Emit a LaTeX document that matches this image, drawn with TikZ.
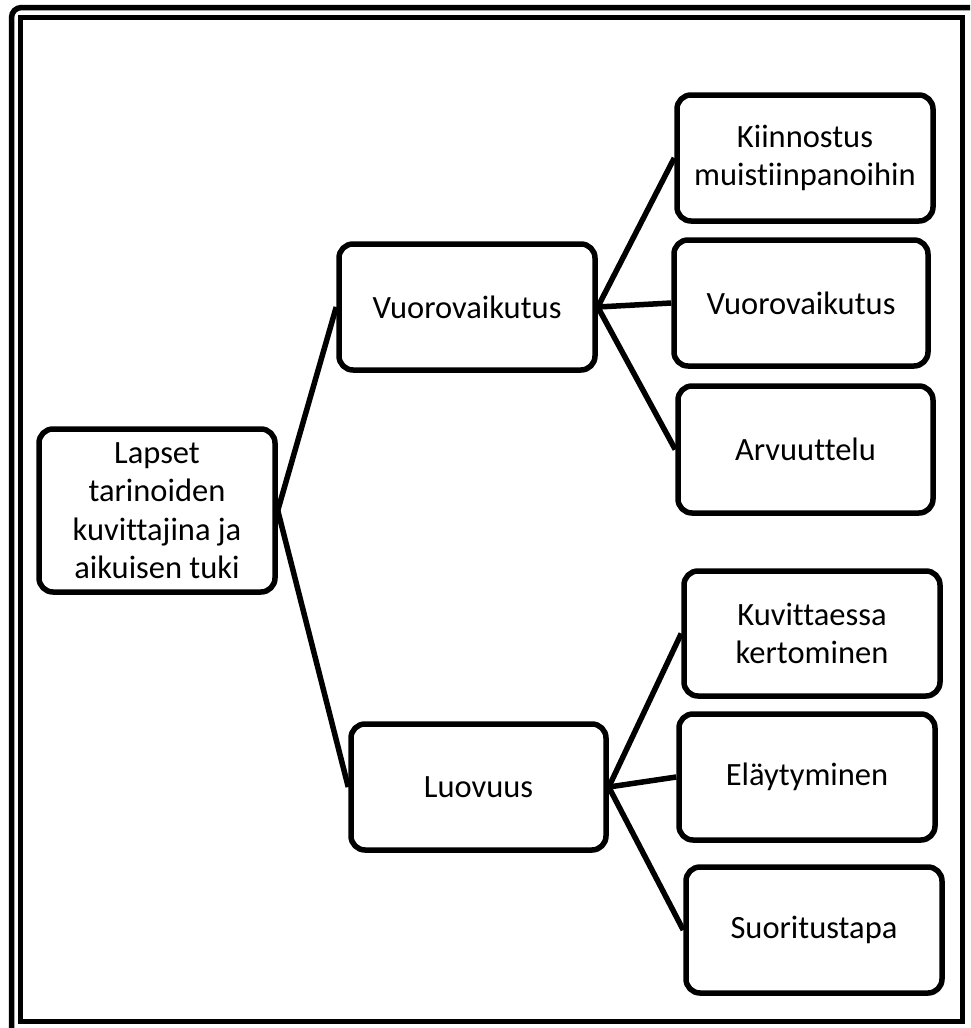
\documentclass[tikz,border=0pt]{standalone}
\usepackage{fontspec}
\setmainfont{Carlito}[Ligatures=NoCommon]
\begin{document}
\begin{tikzpicture}[x=1pt,y=-1pt,
  box/.style={draw=black,line width=5.5pt,rounded corners=14pt,rectangle,align=center,
    inner sep=0pt,font=\fontsize{32.5}{38.5}\selectfont,fill=white},
  link/.style={draw=black,line width=5.5pt},
  frame/.style={draw=black,line width=5.5pt}]
\useasboundingbox (0,0) rectangle (970,1028);
\begin{scope}
\clip (0,0) rectangle (970,1028);
\draw[frame,rounded corners=10pt] (11.5,7.5) rectangle (990,1045);
\draw[frame] (20.5,17.5) rectangle (962.5,1021.5);
\end{scope}
\node[box,minimum width=236pt,minimum height=163pt] (root) at (157,510.5) {Lapset\\tarinoiden\\kuvittajina ja\\aikuisen tuki};
\node[box,minimum width=256pt,minimum height=126pt] (mt) at (467,307) {Vuorovaikutus};
\node[box,minimum width=255pt,minimum height=126pt] (mb) at (478.5,787) {Luovuus};
\node[box,minimum width=256pt,minimum height=126pt] (r1) at (805,158) {Kiinnostus\\muistiinpanoihin};
\node[box,minimum width=254pt,minimum height=126pt] (r2) at (801,303) {Vuorovaikutus};
\node[box,minimum width=255pt,minimum height=127pt] (r3) at (805.5,449.5) {Arvuuttelu};
\node[box,minimum width=256pt,minimum height=125pt] (r4) at (812,633.5) {Kuvittaessa\\kertominen};
\node[box,minimum width=256pt,minimum height=126pt] (r5) at (807,777) {Eläytyminen};
\node[box,minimum width=256pt,minimum height=126pt] (r6) at (814,930) {Suoritustapa};
\draw[link] (root.east) -- (mt.west);
\draw[link] (root.east) -- (mb.west);
\draw[link] (mt.east) -- (r1.west);
\draw[link] (mt.east) -- (r2.west);
\draw[link] (mt.east) -- (r3.west);
\draw[link] (mb.east) -- (r4.west);
\draw[link] (mb.east) -- (r5.west);
\draw[link] (mb.east) -- (r6.west);
\end{tikzpicture}
\end{document}
